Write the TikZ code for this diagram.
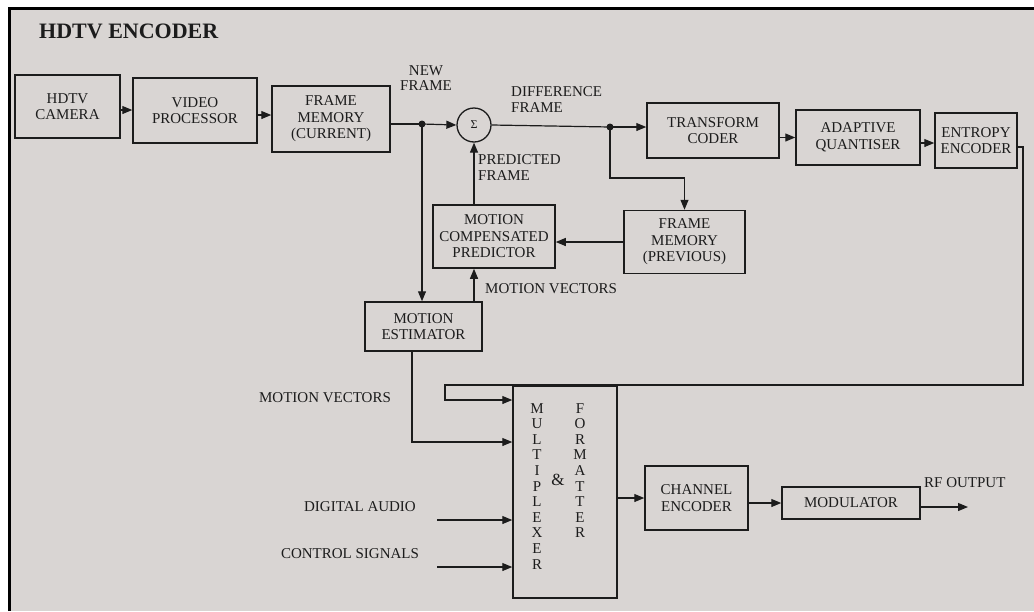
\documentclass[tikz,border=0pt]{standalone}
\usepackage{fontspec}
\setmainfont{Liberation Serif}
\usetikzlibrary{arrows.meta,calc}
\definecolor{paper}{HTML}{D9D5D3}
\definecolor{ink}{HTML}{1C1C1C}
\newcommand\boxfont{\fontsize{15}{16.5}\selectfont}
\newcommand\labfont{\fontsize{15}{15.5}\selectfont}
\newcommand\muxfont{\fontsize{15}{15.6}\selectfont}
\begin{document}
\begin{tikzpicture}[x=1pt,y=-1pt,
  box/.style={draw=ink,line width=1.5pt,inner sep=0pt,align=center,font=\boxfont,text=ink},
  lab/.style={align=center,font=\labfont,text=ink,inner sep=0pt},
  arr/.style={draw=ink,line width=1.2pt,-{Triangle[length=10pt,width=8pt]}},
  ln/.style={draw=ink,line width=1.2pt},
  dot/.style={circle,fill=ink,inner sep=0pt,minimum size=7pt},
]
\useasboundingbox (0,0) rectangle (1034,611);
\fill[white] (0,0) rectangle (1034,611);
\fill[paper] (9,8) rectangle (1034,611);
\draw[black,line width=3pt] (9.5,611) -- (9.5,8.5) -- (1034,8.5);

% title
\node[anchor=base west,font=\fontsize{22}{24}\selectfont\bfseries,text=ink,inner sep=0pt] (title) at (39,38) {HDTV ENCODER};

% blocks
\node[box,minimum width=105pt,minimum height=63pt] (cam) at (67.5,106.5) {HDTV\\CAMERA};
\node[box,minimum width=124pt,minimum height=65pt] (vp) at (195,110.5) {VIDEO\\PROCESSOR};
\node[box,minimum width=118pt,minimum height=66pt] (fmc) at (331,119) {FRAME\\MEMORY\\(CURRENT)};
\node[draw=ink,line width=1.3pt,circle,minimum size=34pt,inner sep=0pt,font=\fontsize{12}{13}\selectfont,text=ink] (sig) at (474,125) {Σ};
\node[box,minimum width=132pt,minimum height=55pt] (tc) at (713,130.5) {TRANSFORM\\CODER};
\node[box,minimum width=124pt,minimum height=55pt] (aq) at (858,137.5) {ADAPTIVE\\QUANTISER};
\node[box,minimum width=82pt,minimum height=55pt] (ee) at (976,140.5) {ENTROPY\\ENCODER};
\node[box,minimum width=121pt,minimum height=63pt] (fmp) at (684.5,242) {FRAME\\MEMORY\\(PREVIOUS)};
\node[box,minimum width=122pt,minimum height=63pt] (mcp) at (494,236.5) {MOTION\\COMPENSATED\\PREDICTOR};
\node[box,minimum width=117pt,minimum height=49pt] (me) at (423.5,326.5) {MOTION\\ESTIMATOR};
\node[box,minimum width=104pt,minimum height=212pt] (mux) at (565,492) {};
\node[box,minimum width=103pt,minimum height=64pt] (ce) at (696.5,498) {CHANNEL\\ENCODER};
\node[box,minimum width=138pt,minimum height=32pt] (mod) at (851,503) {MODULATOR};

% mux text
\node[lab,font=\muxfont,anchor=north] (muxa) at (537,403) {M\\U\\L\\T\\I\\P\\L\\E\\X\\E\\R};
\node[lab,font=\muxfont,anchor=north] (muxb) at (580,403) {F\\O\\R\\M\\A\\T\\T\\E\\R};
\node[lab,font=\fontsize{17}{19}\selectfont] (amp) at (558,480) {\&};

% junctions and helper points
\node[dot] (j1) at (422,124) {};
\node[dot] (j2) at (610,127) {};
\coordinate (a1) at (0,110);
\coordinate (a2) at (0,115);
\coordinate (c1) at (610,178);
\coordinate (r1) at (1023,147);
\coordinate (r3) at (445,385);
\coordinate (r4) at (445,400);
\coordinate (m2) at (412,442);
\coordinate (da) at (437,520);
\coordinate (cs) at (437,567);
\coordinate (rf) at (968,507);
\coordinate (a3) at (0,143);

% connectors
\draw[arr] (cam.east |- a1) -- (vp.west |- a1);
\draw[arr] (vp.east |- a2) -- (fmc.west |- a2);
\draw[ln] (fmc.east |- j1) -- (j1.center);
\draw[arr] (j1.center) -- (sig.west);
\draw[ln] (sig.east) -- (j2.center);
\draw[arr] (j2.center) -- (j2.center -| tc.west);
\draw[arr] (tc.east |- aq.west) -- (aq.west);
\draw[arr] (aq.east |- a3) -- (ee.west |- a3);
\draw[arr] (j2.center) -- (c1) -| (fmp.north);
\draw[arr] (fmp.west) -- (fmp.west -| mcp.east);
\draw[arr] (sig.south |- mcp.north) -- (sig.south);
\draw[arr] (j1.center) -- (j1.center |- me.north);
\draw[arr] (sig.south |- me.north) -- (sig.south |- mcp.south);
\draw[arr] (ee.east |- r1) -- (r1) |- (r3) -- (r4) -- (r4 -| mux.west);
\draw[arr] (me.south -| m2) -- (m2) -- (m2 -| mux.west);
\draw[arr] (da) -- (da -| mux.west);
\draw[arr] (cs) -- (cs -| mux.west);
\draw[arr] (mux.east |- ce.west) -- (ce.west);
\draw[arr] (ce.east |- mod.west) -- (mod.west);
\draw[arr] (mod.east |- rf) -- (rf);

% labels
\node[lab] (lnew) at (426,78) {NEW\\FRAME};
\node[lab,anchor=west,align=left] (ldiff) at (511,99.5) {DIFFERENCE\\FRAME};
\node[lab,anchor=west,align=left] (lpred) at (478,167.5) {PREDICTED\\FRAME};
\node[lab,anchor=west] (lmv1) at (485,289) {MOTION VECTORS};
\node[lab] (lmv2) at (325,398) {MOTION VECTORS};
\node[lab] (lda) at (360,507) {DIGITAL AUDIO};
\node[lab] (lcs) at (350,554) {CONTROL SIGNALS};
\node[lab,anchor=west] (lrf) at (924,483) {RF OUTPUT};
\end{tikzpicture}
\end{document}
